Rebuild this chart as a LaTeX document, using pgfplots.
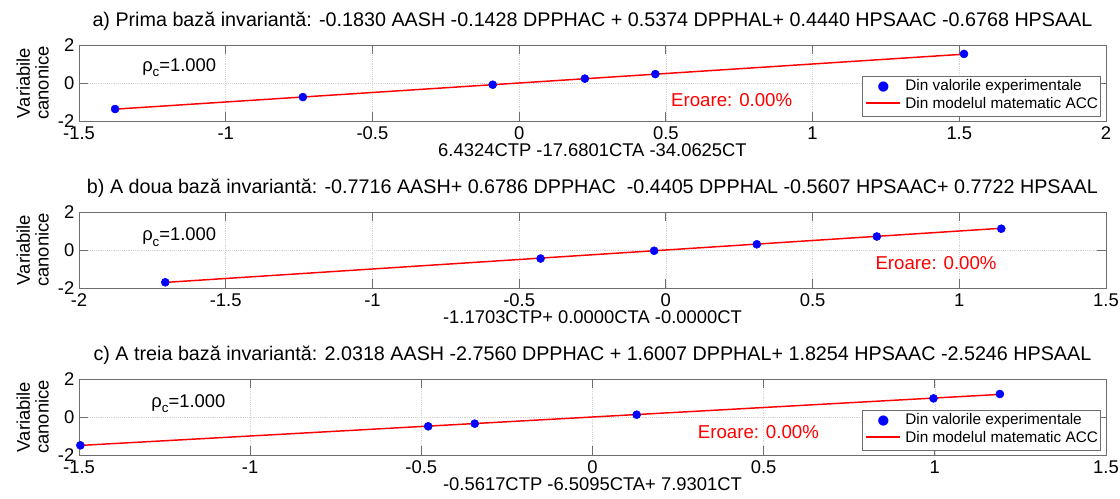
\documentclass[border=0pt]{standalone}
\usepackage{fontspec}
\setmainfont{Liberation Sans}
\newfontfamily\dejavu{DejaVu Sans}
\usepackage{pgfplots}
\usepackage{pgfplotstable}
\pgfplotsset{compat=1.18}

\definecolor{axgray}{RGB}{110,110,110}
\definecolor{ptblue}{RGB}{0,0,255}
\definecolor{mred}{RGB}{255,0,0}

\pgfplotstableread{
x y m
-1.377 -1.370 -1.377
-0.737 -0.740 -0.737
-0.090 -0.090 -0.090
0.224 0.230 0.224
0.464 0.470 0.464
1.516 1.530 1.516
}\dataA
\pgfplotstableread{
x y m
-1.706 -1.700 -1.706
-0.427 -0.450 -0.427
-0.040 -0.040 -0.040
0.310 0.300 0.310
0.719 0.710 0.719
1.143 1.120 1.143
}\dataB
\pgfplotstableread{
x y m
-1.496 -1.490 -1.496
-0.480 -0.490 -0.480
-0.344 -0.350 -0.344
0.129 0.120 0.129
0.996 0.980 0.996
1.190 1.210 1.190
}\dataC

\pgfplotsset{
  mystyle/.style={
    scale only axis, width=770.25pt, height=57pt,
    ymin=-2, ymax=2, ytick={-2,0,2},
    axis line style={axgray},
    tick style={axgray, semithick},
    tick align=inside, major tick length=7pt,
    grid=major, grid style={densely dotted, gray!35},
    /pgf/number format/assume math mode=true,
    tick label style={font=\fontsize{13.8}{15}\selectfont},
    xticklabel style={yshift=-1pt},
    title style={font=\fontsize{14.8}{17}\selectfont, yshift=1pt},
    xlabel style={font=\fontsize{13.8}{15}\selectfont, yshift=4pt},
    ylabel style={font=\fontsize{13.8}{14}\selectfont, align=center, yshift=0pt},
    ylabel={Variabile\\canonice},
  },
  expstyle/.style={only marks, mark=*, mark size=3pt, color=ptblue},
  modstyle/.style={color=mred, line width=1.1pt, mark=none},
}

\newcommand{\rhotext}{\fontsize{13.8}{15}\selectfont ρ\raisebox{-0.55ex}{\fontsize{10}{10}\selectfont c}=1.000}
\newcommand{\errtext}{\fontsize{14}{16}\selectfont\color{red}Eroare: 0.00\%}
\newcommand{\mylegendnode}{%
  \node[draw=axgray, fill=white, anchor=south east, inner xsep=2pt, inner ysep=2pt,
        font=\fontsize{11.5}{13}\selectfont] at (rel axis cs:0.995,0.06)
  {\begin{tabular}{@{}c@{\hspace{3pt}}l@{}}
   \makebox[0.95cm]{\color{blue}{\dejavu\fontsize{10}{10}\selectfont ●}} & Din valorile experimentale\\
   \makebox[0.95cm]{\color{red}\rule[0.28em]{0.9cm}{1.4pt}} & Din modelul matematic ACC
   \end{tabular}};}

\begin{document}
\begin{tikzpicture}
\useasboundingbox (0,0) rectangle (840pt,374.25pt);

\begin{axis}[mystyle, at={(59.25pt,283.5pt)}, anchor=south west,
  xmin=-1.5, xmax=2, xtick={-1.5,-1,...,2},
  title={a) Prima bază invariantă: -0.1830 AASH -0.1428 DPPHAC + 0.5374 DPPHAL+ 0.4440 HPSAAC -0.6768 HPSAAL},
  xlabel={6.4324CTP -17.6801CTA -34.0625CT}]
\addplot[expstyle] table[x=x,y=y] {\dataA};
\addplot[modstyle] table[x=x,y=m] {\dataA};
\node[anchor=west] at (rel axis cs:0.057,0.70) {\rhotext};
\node[anchor=west] at (rel axis cs:0.572,0.28) {\errtext};
\mylegendnode
\end{axis}

\begin{axis}[mystyle, at={(59.25pt,158.25pt)}, anchor=south west,
  xmin=-2, xmax=1.5, xtick={-2,-1.5,...,1.5},
  title={b) A doua bază invariantă: -0.7716 AASH+ 0.6786 DPPHAC \ -0.4405 DPPHAL -0.5607 HPSAAC+ 0.7722 HPSAAL},
  xlabel={-1.1703CTP+ 0.0000CTA -0.0000CT}]
\addplot[expstyle] table[x=x,y=y] {\dataB};
\addplot[modstyle] table[x=x,y=m] {\dataB};
\node[anchor=west] at (rel axis cs:0.057,0.67) {\rhotext};
\node[anchor=west] at (rel axis cs:0.771,0.33) {\errtext};
\end{axis}

\begin{axis}[mystyle, at={(59.25pt,33pt)}, anchor=south west,
  xmin=-1.5, xmax=1.5, xtick={-1.5,-1,...,1.5},
  title={c) A treia bază invariantă: 2.0318 AASH -2.7560 DPPHAC + 1.6007 DPPHAL+ 1.8254 HPSAAC -2.5246 HPSAAL},
  xlabel={-0.5617CTP -6.5095CTA+ 7.9301CT}]
\addplot[expstyle] table[x=x,y=y] {\dataC};
\addplot[modstyle] table[x=x,y=m] {\dataC};
\node[anchor=west] at (rel axis cs:0.066,0.68) {\rhotext};
\node[anchor=west] at (rel axis cs:0.598,0.30) {\errtext};
\mylegendnode
\end{axis}
\end{tikzpicture}
\end{document}
